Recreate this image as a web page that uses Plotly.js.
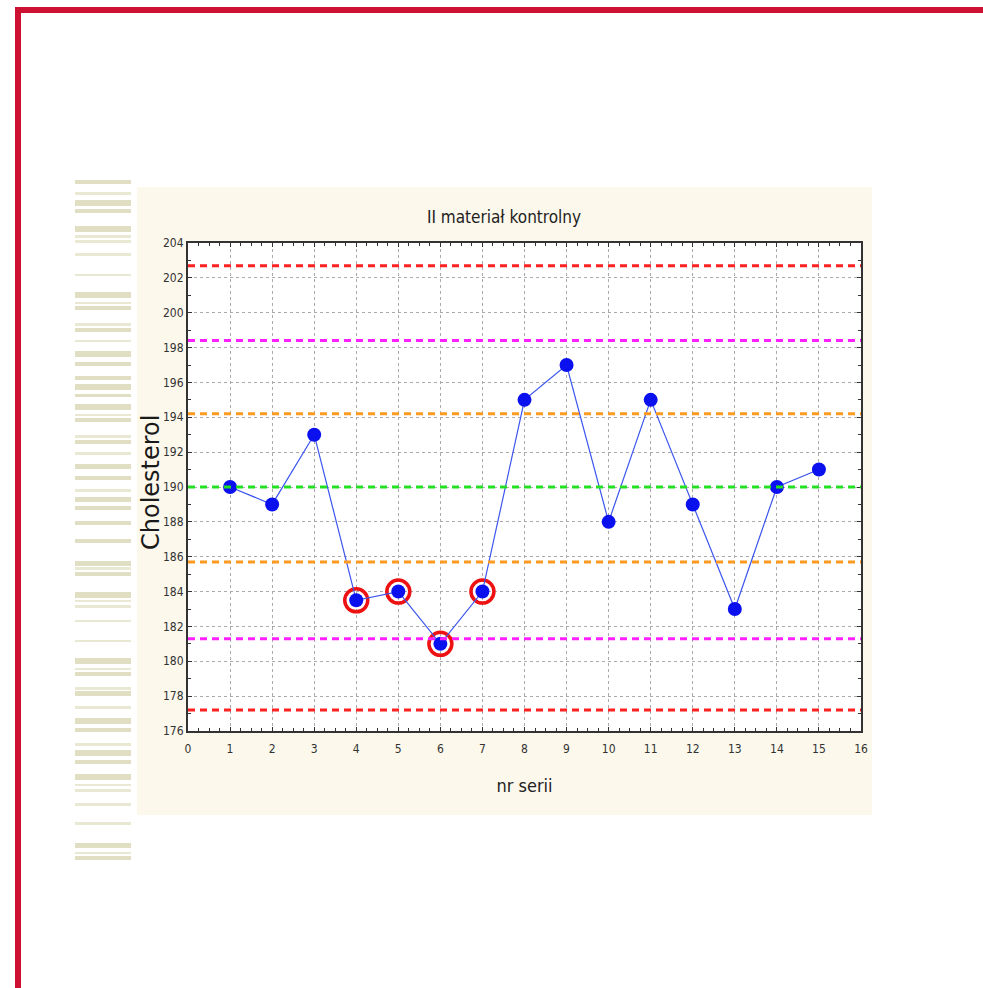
<!DOCTYPE html>
<html>
<head>
<meta charset="utf-8">
<script src="https://cdn.plot.ly/plotly-3.0.1.min.js"></script>
<style>
  html, body { margin: 0; padding: 0; background: #ffffff; }
  #page { position: relative; width: 983px; height: 988px; overflow: hidden; background: #fff; }
  .deco { position: absolute; }
  #chart { position: absolute; left: 0; top: 0; width: 983px; height: 988px; }
</style>
</head>
<body>
<div id="page">
  <div class="deco" style="left:15px;top:7px;width:968px;height:6px;background:#CC1133;"></div>
  <div class="deco" style="left:15px;top:7px;width:6px;height:981px;background:#CC1133;"></div>
  <div class="deco" style="left:137px;top:187px;width:735px;height:628px;background:#FDF8EC;"></div>
  <div id="stripes"></div>
  <div id="chart"></div>
</div>
<script>
// ---- chart data ----
const seriesNumbers = [1, 2, 3, 4, 5, 6, 7, 8, 9, 10, 11, 12, 13, 14, 15];
const cholesterolValues = [190, 189, 193, 183.5, 184, 181, 184, 195, 197, 188, 195, 189, 183, 190, 191];
const flaggedSeries = [4, 5, 6, 7];
const controlMean = 190;
const controlLimits1SD = [185.7, 194.2];
const controlLimits2SD = [181.3, 198.4];
const controlLimits3SD = [177.2, 202.7];
const yTickValues = [176, 178, 180, 182, 184, 186, 188, 190, 192, 194, 196, 198, 200, 202, 204];
const xTickValues = [0, 1, 2, 3, 4, 5, 6, 7, 8, 9, 10, 11, 12, 13, 14, 15, 16];
const chartTitle = "II materiał kontrolny";
const xTitle = "nr serii";
const yTitle = "Cholesterol";

// ---- decorative stripes at left of page (pure page decoration) ----
const stripeBands = [[179.7,183.7],[191.7,195],[200,205.7],[209,213],[226,231.7],[235,237.7],[240,243],[253,255.7],[273.7,275.7],[292,297.7],[301.7,303.7],[305.7,309.7],[323,325.7],[327.7,331.7],[339.7,342.3],[351,357],[361.7,365.7],[376,379.7],[384,389.7],[393.7,397.3],[404,409.7],[413.7,416],[417.7,421.7],[435,437.7],[439.7,443.7],[452,454.7],[463.7,469],[476,480],[489,492],[496.7,501.7],[505.7,509.7],[521,525],[539.3,543.3],[561,565.7],[567,569.7],[571.7,576],[591.7,597.7],[599.7,602.3],[605,608.3],[619.7,622.3],[639.7,642.3],[658.3,664],[667.7,670.3],[672.3,676.3],[687,689.7],[691,695.7],[705.7,709],[717.7,723.7],[727.7,732.3],[743.3,746],[750.3,756.3],[759.7,763.7],[774,780.3],[783.7,785.7],[789.3,792],[803.3,806],[821.7,825],[843.3,848.3],[851.7,854.3],[855.7,859.7]];
const stripeHost = document.getElementById('stripes');
stripeBands.forEach(function (b) {
  const d = document.createElement('div');
  d.className = 'deco';
  const h = b[1] - b[0];
  d.style.left = '75px';
  d.style.width = '56px';
  d.style.top = b[0] + 'px';
  d.style.height = h + 'px';
  d.style.background = h > 3.5 ? '#E0DFC3' : '#E9E8D3';
  stripeHost.appendChild(d);
});

// ---- plot ----
const narrow = '"Liberation Sans Narrow", "DejaVu Sans Condensed", "Arial Narrow", sans-serif';

const flaggedY = flaggedSeries.map(function (s) { return cholesterolValues[seriesNumbers.indexOf(s)]; });

const traces = [
  {
    x: flaggedSeries, y: flaggedY, type: 'scatter', mode: 'markers',
    marker: { symbol: 'circle-open', size: 23, color: '#EE1111', line: { width: 3.5, color: '#EE1111' } },
    hoverinfo: 'skip', showlegend: false
  },
  {
    x: seriesNumbers, y: cholesterolValues, type: 'scatter', mode: 'lines+markers',
    line: { color: '#3B55EE', width: 1.2 },
    marker: { color: '#0A10EE', size: 14 },
    showlegend: false
  }
];

function hline(y, color) {
  return { type: 'line', xref: 'paper', x0: 0, x1: 1, yref: 'y', y0: y, y1: y,
           line: { color: color, width: 3, dash: '7px,5px' }, layer: 'above' };
}
const shapes = [
  hline(controlLimits3SD[0], '#FF2020'), hline(controlLimits3SD[1], '#FF2020'),
  hline(controlLimits2SD[0], '#FF20FF'), hline(controlLimits2SD[1], '#FF20FF'),
  hline(controlLimits1SD[0], '#FF9A20'), hline(controlLimits1SD[1], '#FF9A20'),
  hline(controlMean, '#22E022')
];

const layout = {
  width: 983, height: 988,
  margin: { l: 188, r: 122, t: 243, b: 257, pad: 0 },
  paper_bgcolor: 'rgba(0,0,0,0)',
  plot_bgcolor: '#FFFFFF',
  showlegend: false,
  title: {
    text: chartTitle, xref: 'container', yref: 'container',
    x: 504 / 983, xanchor: 'center', y: 1 - 217 / 988, yanchor: 'middle',
    font: { family: narrow, size: 17, color: '#222222' }
  },
  xaxis: {
    range: [0, 16], tickvals: xTickValues, ticktext: xTickValues.map(String),
    ticks: 'inside', ticklen: 4, tickcolor: '#333', tickwidth: 1,
    showline: true, mirror: 'ticks', linecolor: '#333', linewidth: 2,
    showgrid: true, gridcolor: '#AAAAAA', griddash: 'dot', gridwidth: 1,
    zeroline: false, ticklabelstandoff: 6,
    minor: { dtick: 0.25, tick0: 0, ticks: 'inside', ticklen: 3, tickcolor: '#333', showgrid: false },
    tickfont: { family: narrow, size: 12, color: '#333333' },
    title: { text: xTitle, standoff: 24, font: { family: narrow, size: 18, color: '#222222' } }
  },
  yaxis: {
    range: [176, 204], tickvals: yTickValues, ticktext: yTickValues.map(String),
    ticks: 'inside', ticklen: 4, tickcolor: '#333', tickwidth: 1,
    showline: true, mirror: 'ticks', linecolor: '#333', linewidth: 2,
    showgrid: true, gridcolor: '#AAAAAA', griddash: 'dot', gridwidth: 1,
    zeroline: false,
    minor: { dtick: 1, tick0: 176, ticks: 'inside', ticklen: 3, tickcolor: '#333', showgrid: false },
    tickfont: { family: narrow, size: 12, color: '#333333' }
  },
  annotations: [{
    text: yTitle, xref: 'paper', yref: 'paper', x: (151 - 188) / 673, y: (731 - 483) / 488,
    xanchor: 'center', yanchor: 'middle', textangle: -90, showarrow: false,
    font: { family: '"DejaVu Sans", sans-serif', size: 24, color: '#1a1a1a' }
  }],
  shapes: shapes
};

Plotly.newPlot('chart', traces, layout, { displayModeBar: false, staticPlot: true });
</script>
</body>
</html>
